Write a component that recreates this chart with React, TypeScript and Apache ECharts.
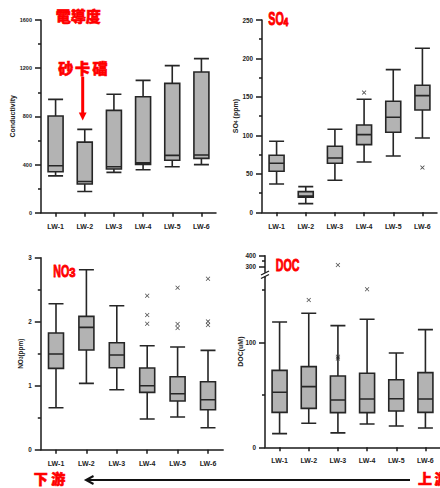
import React, { useEffect, useRef } from 'react';
import * as echarts from 'echarts';

const categories = ['LW-1', 'LW-2', 'LW-3', 'LW-4', 'LW-5', 'LW-6'];

// [min, Q1, median, Q3, max]
const conductivityBoxes = [
  [306, 340, 390, 803, 941],
  [176, 238, 259, 586, 692],
  [335, 363, 382, 850, 983],
  [357, 401, 415, 963, 1099],
  [382, 435, 476, 1074, 1221],
  [399, 451, 479, 1168, 1279],
];

const so4Boxes = [
  [36.8, 53.3, 63.7, 74.1, 92.3],
  [11.3, 19.5, 21.2, 26.9, 33.4],
  [41.6, 63.7, 70.6, 85.8, 107.9],
  [65.4, 88, 101, 113.5, 146.9],
  [73.2, 104, 123.5, 144.3, 185.5],
  [96.6, 133, 151.7, 165.1, 213.2],
];
const so4Outliers = [
  [3, 155.6],
  [5, 58.1],
];

const no3Boxes = [
  [0.656, 1.271, 1.495, 1.823, 2.281],
  [1.036, 1.557, 1.911, 2.083, 2.812],
  [0.937, 1.281, 1.479, 1.672, 2.25],
  [0.479, 0.896, 1.0, 1.276, 1.625],
  [0.51, 0.76, 0.875, 1.141, 1.604],
  [0.344, 0.625, 0.781, 1.0625, 1.552],
];
const no3Outliers = [
  [3, 2.406], [3, 2.104], [3, 1.969],
  [4, 2.531], [4, 1.963], [4, 1.901],
  [5, 2.672], [5, 2.005], [5, 1.948],
];

const docBoxes = [
  [13.0, 33.3, 52.4, 73.3, 119.4],
  [22.9, 37.1, 57.8, 76.8, 127.6],
  [13.7, 33.0, 45.1, 67.9, 115.9],
  [22.2, 33.0, 46.0, 70.5, 121.9],
  [20.3, 34.6, 46.3, 64.4, 89.8],
  [18.4, 33.3, 46.0, 71.1, 112.1],
];
const docOutliers = [
  [1, 140.3],
  [2, 86.3], [2, 84.5],
  [3, 150.5],
];
const docHighOutliers = [[2, 315]];

const condTicks = { min: 0, max: 1600, interval: 400 };
const so4Ticks = { min: 0, max: 250, interval: 50 };
const no3Ticks = { min: 0, max: 3, interval: 1 };
const docLowMajor = [0, 100];
const docLowMinor = [50, 150];
const docHighMajor = [300, 400];
const docHighMinor = [350];

const FONT = 'Liberation Sans, Arial, sans-serif';
const CJK = 'Noto Sans CJK TC, Noto Sans CJK SC, sans-serif';
const AXIS_COLOR = '#1a1a1a';
const X_MARK = 'path://M0,1.2L1.2,0L5,3.8L8.8,0L10,1.2L6.2,5L10,8.8L8.8,10L5,6.2L1.2,10L0,8.8L3.8,5Z';

function xAxisCfg(gridIndex: number, show = true, margin = 10) {
  return {
    type: 'category',
    gridIndex,
    data: categories,
    show,
    boundaryGap: true,
    axisLine: { show: true, lineStyle: { color: AXIS_COLOR, width: 1.5 } },
    axisTick: { show: true, alignWithLabel: true, length: 4, lineStyle: { color: AXIS_COLOR, width: 1.5 } },
    axisLabel: { show: true, interval: 0, fontSize: 7, fontWeight: 'bold', color: '#222', margin, fontFamily: FONT },
    splitLine: { show: false },
  };
}

function yAxisCfg(gridIndex: number, t: { min: number; max: number; interval: number }, labelSize: number, extra: any = {}) {
  return {
    type: 'value',
    gridIndex,
    position: 'left',
    min: t.min,
    max: t.max,
    interval: t.interval,
    axisLine: { show: true, lineStyle: { color: AXIS_COLOR, width: 1.5 } },
    axisTick: { show: true, length: 6, lineStyle: { color: AXIS_COLOR, width: 1.5 } },
    minorTick: { show: true, splitNumber: 2, length: 3, lineStyle: { color: AXIS_COLOR, width: 1.5 } },
    axisLabel: {
      fontSize: labelSize,
      fontWeight: 'bold',
      color: '#222',
      margin: 9,
      fontFamily: FONT,
      formatter: (v: number) => String(v),
    },
    splitLine: { show: false },
    minorSplitLine: { show: false },
    nameLocation: 'middle',
    ...extra,
  };
}

function boxSeries(idx: number, data: number[][]) {
  return {
    type: 'boxplot',
    xAxisIndex: idx,
    yAxisIndex: idx,
    data,
    boxWidth: [15, 15],
    itemStyle: { color: '#b3b3b3', borderColor: '#262626', borderWidth: 1.6 },
    emphasis: { disabled: true },
    silent: true,
  };
}

function outlierSeries(xi: number, yi: number, data: number[][]) {
  return {
    type: 'scatter',
    xAxisIndex: xi,
    yAxisIndex: yi,
    data,
    symbol: X_MARK,
    symbolSize: 4.5,
    itemStyle: { color: '#222' },
    silent: true,
  };
}

export default function App() {
  const ref = useRef<HTMLDivElement>(null);

  useEffect(() => {
    if (!ref.current) return;
    const chart = echarts.init(ref.current, undefined, { renderer: 'svg' });

    const red = '#ff0000';
    const titleText = (x: number, y: number, text: string, size: number, scaleX = 1) => ({
      type: 'text',
      x,
      y,
      scaleX,
      style: {
        text,
        fill: red,
        stroke: red,
        lineWidth: 0.9,
        font: `bold ${size}px ${FONT}`,
        lineHeight: size,
        textAlign: 'left',
        textVerticalAlign: 'middle',
      },
    });
    const cjkText = (x: number, y: number, text: string, size: number) => ({
      type: 'text',
      x,
      y,
      style: {
        text,
        fill: red,
        stroke: red,
        lineWidth: 0.6,
        font: `900 ${size}px ${CJK}`,
        lineHeight: size,
        textAlign: 'center',
        textVerticalAlign: 'middle',
      },
    });

    const option: any = {
      animation: false,
      backgroundColor: '#ffffff',
      textStyle: { fontFamily: FONT },
      grid: [
        { left: 41, top: 20, width: 175, height: 192.7 },
        { left: 262, top: 20, width: 175, height: 192.3 },
        { left: 40.8, top: 257.7, width: 182.4, height: 192 },
        { left: 265, top: 277.2, width: 178.2, height: 170.1 },
        { left: 265, top: 255.7, width: 178.2, height: 16.5 },
      ],
      xAxis: [
        xAxisCfg(0, true, 10),
        xAxisCfg(1, true, 10.5),
        xAxisCfg(2, true, 10),
        xAxisCfg(3, true, 10),
        xAxisCfg(4, false),
      ],
      yAxis: [
        yAxisCfg(0, condTicks, 5.5, {
          name: 'Conductivity',
          nameGap: 25.5,
          nameTextStyle: { fontSize: 7, fontWeight: 'bold', color: '#222' },
        }),
        yAxisCfg(1, so4Ticks, 6.3, {
          name: '{a|SO}{b|4}{a| (ppm)}',
          nameGap: 23.5,
          nameTextStyle: {
            rich: {
              a: { fontSize: 7, fontWeight: 'bold', color: '#222', fontFamily: FONT },
              b: { fontSize: 5, fontWeight: 'bold', color: '#222', fontFamily: FONT, verticalAlign: 'bottom' },
            },
          },
        }),
        yAxisCfg(2, no3Ticks, 6.3, {
          name: '{a|NO}{b|3}{a|(ppm)}',
          nameGap: 17,
          nameTextStyle: {
            rich: {
              a: { fontSize: 6.5, fontWeight: 'bold', color: '#222', fontFamily: FONT },
              b: { fontSize: 4.5, fontWeight: 'bold', color: '#222', fontFamily: FONT, verticalAlign: 'bottom' },
            },
          },
        }),
        {
          type: 'value',
          gridIndex: 3,
          position: 'left',
          min: 0,
          max: 162,
          axisLine: { show: true, lineStyle: { color: AXIS_COLOR, width: 1.5 } },
          axisTick: { show: true, length: 6, customValues: docLowMajor, lineStyle: { color: AXIS_COLOR, width: 1.5 } },
          axisLabel: { customValues: docLowMajor, fontSize: 6.3, fontWeight: 'bold', color: '#222', margin: 9 },
          splitLine: { show: false },
        },
        {
          type: 'value',
          gridIndex: 4,
          position: 'left',
          min: 250,
          max: 400,
          axisLine: { show: true, lineStyle: { color: AXIS_COLOR, width: 1.5 } },
          axisTick: { show: true, length: 6, customValues: docHighMajor, lineStyle: { color: AXIS_COLOR, width: 1.5 } },
          axisLabel: { customValues: docHighMajor, fontSize: 6.3, fontWeight: 'bold', color: '#222', margin: 9 },
          splitLine: { show: false },
        },
        {
          type: 'value',
          gridIndex: 3,
          position: 'left',
          offset: 0,
          min: 0,
          max: 162,
          axisLine: { show: false },
          axisTick: { show: true, length: 3, customValues: docLowMinor, lineStyle: { color: AXIS_COLOR, width: 1.5 } },
          axisLabel: { show: false },
          splitLine: { show: false },
        },
        {
          type: 'value',
          gridIndex: 4,
          position: 'left',
          offset: 0,
          min: 250,
          max: 400,
          axisLine: { show: false },
          axisTick: { show: true, length: 3, customValues: docHighMinor, lineStyle: { color: AXIS_COLOR, width: 1.5 } },
          axisLabel: { show: false },
          splitLine: { show: false },
        },
      ],
      series: [
        boxSeries(0, conductivityBoxes),
        boxSeries(1, so4Boxes),
        outlierSeries(1, 1, so4Outliers),
        boxSeries(2, no3Boxes),
        outlierSeries(2, 2, no3Outliers),
        boxSeries(3, docBoxes),
        outlierSeries(3, 3, docOutliers),
        outlierSeries(4, 4, docHighOutliers),
      ],
      graphic: [
        // panel titles
        cjkText(78.3, 15, '電導度', 15),
        cjkText(65.8, 67.5, '砂', 15),
        cjkText(82.5, 67.5, '卡', 15),
        cjkText(100, 67.5, '礑', 15),
        {
          type: 'line',
          shape: { x1: 82.7, y1: 76.7, x2: 82.7, y2: 114 },
          style: { stroke: red, lineWidth: 3 },
        },
        {
          type: 'polygon',
          shape: { points: [[78.8, 112.5], [86.6, 112.5], [82.7, 120.5]] },
          style: { fill: red },
        },
        titleText(268.3, 19.3, 'SO', 18, 0.6),
        titleText(283.6, 22.4, '4', 10, 0.85),
        titleText(53.3, 271.2, 'NO', 17, 0.63),
        titleText(69.3, 272.8, '3', 12.5, 0.9),
        titleText(275.7, 265.2, 'DOC', 16.3, 0.655),
        // DOC axis name
        {
          type: 'text',
          x: 240.3,
          y: 351.7,
          rotation: Math.PI / 2,
          style: {
            text: 'DOC(uM)',
            fill: '#222',
            font: `bold 7px ${FONT}`,
            textAlign: 'center',
            textVerticalAlign: 'middle',
          },
        },
        // axis break mark
        {
          type: 'rect',
          shape: { x: 262, y: 272.6, width: 6, height: 4.4 },
          style: { fill: '#ffffff' },
        },
        {
          type: 'line',
          shape: { x1: 261, y1: 275, x2: 269, y2: 271 },
          style: { stroke: AXIS_COLOR, lineWidth: 1.3 },
        },
        {
          type: 'line',
          shape: { x1: 261, y1: 278.5, x2: 269, y2: 274.5 },
          style: { stroke: AXIS_COLOR, lineWidth: 1.3 },
        },
        // downstream / upstream
        cjkText(40.8, 478, '下', 14),
        cjkText(58.3, 478, '游', 14),
        cjkText(425, 478, '上', 14),
        cjkText(441.5, 478, '游', 14),
        {
          type: 'line',
          shape: { x1: 86, y1: 480, x2: 410, y2: 480 },
          style: { stroke: '#111', lineWidth: 2 },
        },
        {
          type: 'polyline',
          shape: { points: [[93.5, 476], [86, 480], [93.5, 484]] },
          style: { stroke: '#111', lineWidth: 2, fill: 'none' },
        },
      ],
    };

    chart.setOption(option);
    return () => chart.dispose();
  }, []);

  return (
    <div
      ref={ref}
      style={{ position: 'fixed', left: 0, top: 0, width: 440, height: 488, background: '#fff' }}
    />
  );
}
